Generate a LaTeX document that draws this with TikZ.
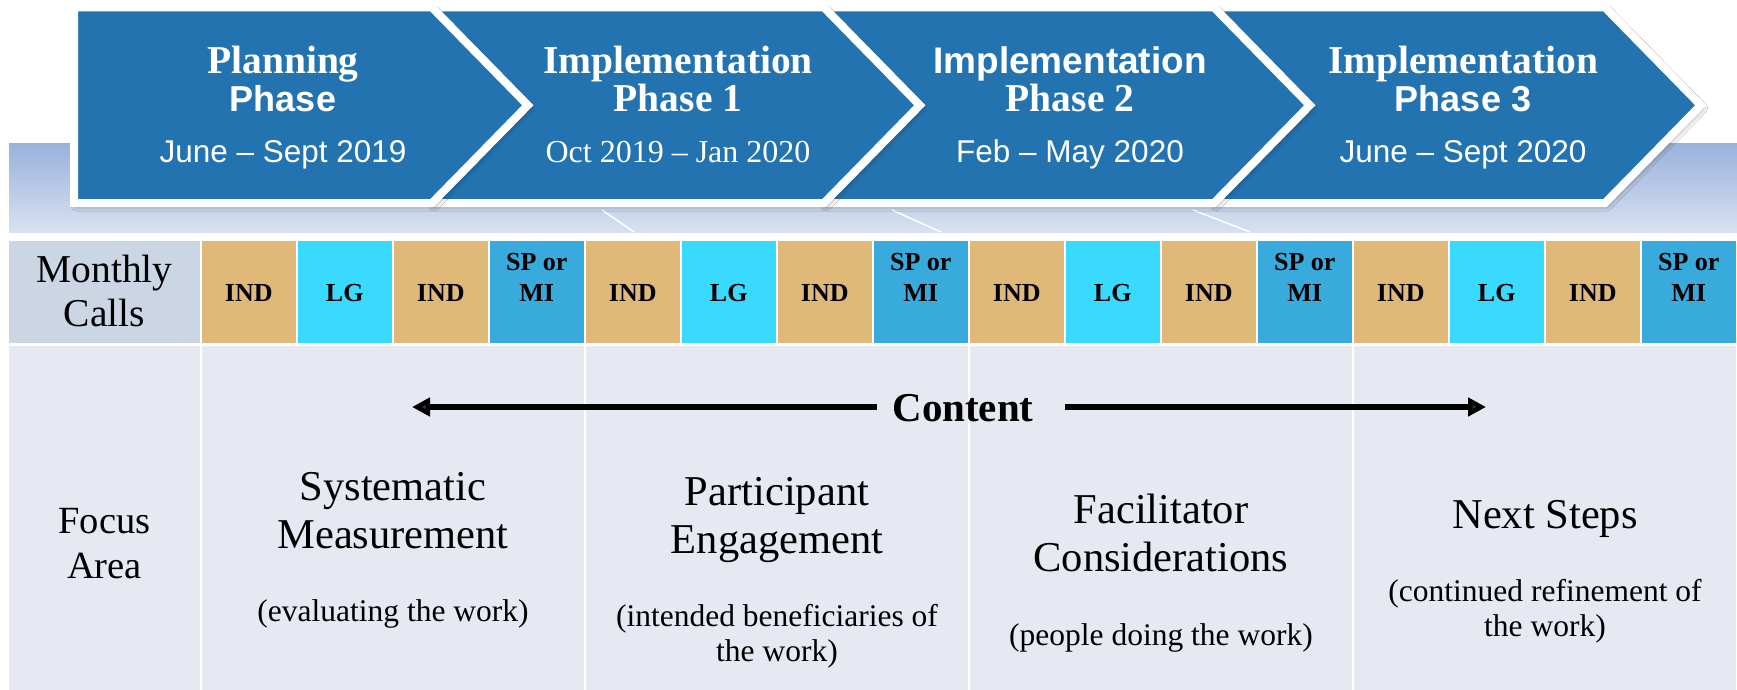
\documentclass[tikz,border=0pt]{standalone}
\usepackage{fontspec}
\setmainfont{Liberation Serif}
\newfontfamily\arialf{Liberation Sans}
\usetikzlibrary{arrows.meta,shadows.blur}
\definecolor{chevblue}{HTML}{2473B1}
\definecolor{bandtop}{HTML}{9BB2DC}
\definecolor{bandbot}{HTML}{D7E1F0}
\definecolor{indc}{HTML}{E0B878}
\definecolor{lgc}{HTML}{3ADAFE}
\definecolor{spc}{HTML}{38AADB}
\definecolor{labc}{HTML}{CBD5E4}
\definecolor{focc}{HTML}{E6E9F1}
\newcommand{\fsz}[2]{\fontsize{#1}{#2}\selectfont}
\begin{document}
\begin{tikzpicture}[x=1pt,y=-1pt,
  chev/.style={fill=chevblue,draw=white,line width=8pt,line join=miter,
     blur shadow={shadow xshift=2pt,shadow yshift=-3pt,shadow blur radius=5pt,shadow opacity=45}},
  ctext/.style={text=white,anchor=base,inner sep=0pt},
  cserifb/.style={ctext,font=\fsz{39.5}{44}\bfseries},
  csansb/.style={ctext,font=\arialf\fsz{36}{40}\bfseries},
  cdate/.style={ctext,font=\arialf\fsz{31.5}{36}},
  cellbox/.style={minimum width=93.5pt,minimum height=102pt,inner sep=0pt,draw=none},
  fbox/.style={minimum width=382pt,minimum height=344pt,inner sep=0pt,draw=none,fill=focc},
  celltxt/.style={anchor=base,inner sep=0pt,font=\fsz{26}{30}\bfseries},
  lbl/.style={anchor=base,inner sep=0pt,font=\fsz{39.5}{44}},
  head/.style={anchor=base,inner sep=0pt,font=\fsz{42.5}{49}},
  sub/.style={anchor=base,inner sep=0pt,font=\fsz{31.5}{36}},
  bigarrow/.style={line width=6.5pt,-{Triangle[length=18pt,width=18pt]}},
  thinw/.style={white,line width=1.5pt}
]
\useasboundingbox (0,0) rectangle (1737,690);
\fill[white] (0,0) rectangle (1737,690);
% gradient band
\shade[top color=bandtop,bottom color=bandbot] (9,144) rectangle (1737,232);
% thin white lines in band
\coordinate (w1a) at (602,210); \coordinate (w1b) at (634,232);
\coordinate (w2a) at (892,210); \coordinate (w2b) at (941,232);
\coordinate (w3a) at (1193,210); \coordinate (w3b) at (1250,232);
\draw[thinw] (w1a) -- (w1b);
\draw[thinw] (w2a) -- (w2b);
\draw[thinw] (w3a) -- (w3b);
% chevrons (right to left)
\def\T{7.5}\def\B{203}\def\M{105.25}
\path[chev] (1214,\T) -- (1605,\T) -- (1700.75,\M) -- (1605,\B) -- (1214,\B) -- (1309.75,\M) -- cycle;
\path[chev] (824,\T) -- (1214,\T) -- (1309.75,\M) -- (1214,\B) -- (824,\B) -- (919.75,\M) -- cycle;
\path[chev] (432,\T) -- (824,\T) -- (919.75,\M) -- (824,\B) -- (432,\B) -- (527.75,\M) -- cycle;
\path[chev] (74,\T) -- (432,\T) -- (527.75,\M) -- (432,\B) -- (74,\B) -- cycle;
% chevron texts
\node[cserifb] (p0a) at (283,74) {Planning};
\node[csansb] (p0b) at (283,112) {Phase};
\node[cdate] (p0c) at (283,162) {June – Sept 2019};
\node[cserifb] (p1a) at (678,74) {Implementation};
\node[cserifb] (p1b) at (678,112) {Phase 1};
\node[ctext,font=\fsz{32}{36}] (p1c) at (678,162) {Oct 2019 – Jan 2020};
\node[ctext,font=\arialf\fsz{37}{42}\bfseries] (p2a) at (1070,74) {Implementation};
\node[cserifb] (p2b) at (1070,112) {Phase 2};
\node[cdate] (p2c) at (1070,162) {Feb – May 2020};
\node[cserifb] (p3a) at (1463,74) {Implementation};
\node[csansb] (p3b) at (1463,112) {Phase 3};
\node[cdate] (p3c) at (1463,162) {June – Sept 2020};
% label cells
\node[cellbox,fill=labc,minimum width=191pt] (lab1) at (104.5,292) {};
\node[lbl] (lab1a) at (104.5,282.7) {Monthly};
\node[lbl] (lab1b) at (104.5,326) {Calls};
\node[fbox,minimum width=191pt] (lab2) at (104.5,518) {};
\node[lbl,font=\fsz{38.5}{44}] (lab2a) at (104.5,533) {Focus};
\node[lbl,font=\fsz{38.5}{44}] (lab2b) at (104.5,578) {Area};
% monthly call cells and focus columns
\foreach \j in {0,...,3}{
  \pgfmathsetmacro{\xa}{202+384*\j+46.75}
  \pgfmathsetmacro{\xb}{\xa+96}
  \pgfmathsetmacro{\xc}{\xa+192}
  \pgfmathsetmacro{\xd}{\xa+288}
  \pgfmathsetmacro{\fx}{202+384*\j+191}
  \node[cellbox,fill=indc] (ca\j) at (\xa,292) {};
  \node[celltxt] (ta\j) at (\xa,301) {IND};
  \node[cellbox,fill=lgc] (cb\j) at (\xb,292) {};
  \node[celltxt] (tb\j) at (\xb,301) {LG};
  \node[cellbox,fill=indc] (cc\j) at (\xc,292) {};
  \node[celltxt] (tc\j) at (\xc,301) {IND};
  \node[cellbox,fill=spc] (cd\j) at (\xd,292) {};
  \node[celltxt] (td\j) at (\xd,301) {MI};
  \node[celltxt] (ud\j) at (\xd,270) {SP or};
  \node[fbox] (f\j) at (\fx,518) {};
}
% focus texts
\node[head] (s1) at (393,500) {Systematic};
\node[head] (s2) at (393,548) {Measurement};
\node[sub] (s3) at (393,621.7) {(evaluating the work)};
\node[head] (e1) at (777,505.7) {Participant};
\node[head] (e2) at (777,553) {Engagement};
\node[sub] (e3) at (777,626) {(intended beneficiaries of};
\node[sub] (e4) at (777,661.7) {the work)};
\node[head] (c1) at (1161,523.4) {Facilitator};
\node[head] (c2) at (1161,571.5) {Considerations};
\node[sub] (c3) at (1161,645.5) {(people doing the work)};
\node[head] (n1) at (1545,528) {Next Steps};
\node[sub] (n2) at (1545,601.7) {(continued refinement of};
\node[sub] (n3) at (1545,636.7) {the work)};
% content arrow
\node[anchor=base,inner sep=0pt,font=\fsz{41}{48}\bfseries] (ct) at (963,421.7) {Content};
\coordinate (ls) at (877,407); \coordinate (le) at (412,407);
\coordinate (rs) at (1065,407); \coordinate (re) at (1486,407);
\draw[bigarrow] (ls) -- (le);
\draw[bigarrow] (rs) -- (re);
\end{tikzpicture}
\end{document}
